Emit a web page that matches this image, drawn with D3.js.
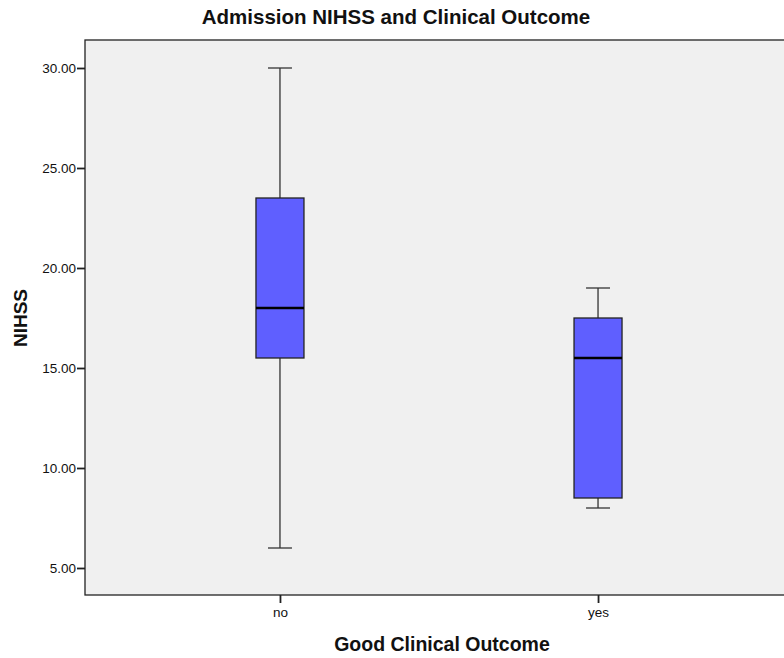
<!DOCTYPE html>
<html>
<head>
<meta charset="utf-8">
<script src="https://cdn.jsdelivr.net/npm/d3@7"></script>
<style>
  html, body { margin: 0; padding: 0; background: #fff; }
  svg { display: block; font-family: "Liberation Sans", Arial, sans-serif; }
</style>
</head>
<body>
<svg id="chart" width="784" height="658"></svg>
<script>
// Admission NIHSS by clinical outcome group
const categories = ["no", "yes"];
const whiskerLow  = [6, 8];
const quartile1   = [15.5, 8.5];
const medians     = [18, 15.5];
const quartile3   = [23.5, 17.5];
const whiskerHigh = [30, 19];
const yTicks = [5, 10, 15, 20, 25, 30];

const boxes = categories.map((c, i) => ({
  cat: c, lo: whiskerLow[i], q1: quartile1[i], med: medians[i], q3: quartile3[i], hi: whiskerHigh[i]
}));

const svg = d3.select("#chart");
const plot = { left: 85, right: 793, top: 40, bottom: 595 };
const FONT = "Liberation Sans, Arial, sans-serif";

const x = d3.scalePoint().domain(categories).range([plot.left, plot.right]).padding(0.613);
const y = d3.scaleLinear().domain([3.65, 31.4]).range([plot.bottom, plot.top]);

// plot background
svg.append("rect")
  .attr("x", plot.left).attr("y", plot.top)
  .attr("width", plot.right - plot.left).attr("height", plot.bottom - plot.top)
  .attr("fill", "#f0f0f0").attr("stroke", "#222").attr("stroke-width", 1.3);

// y axis
const yAxis = svg.append("g").attr("transform", `translate(${plot.left},0)`)
  .call(d3.axisLeft(y).tickValues(yTicks).tickFormat(d3.format(".2f")).tickSize(8).tickSizeOuter(0));
yAxis.select(".domain").remove();
yAxis.selectAll(".tick line").attr("stroke", "#222").attr("stroke-width", 1.8);
yAxis.selectAll(".tick text").attr("x", -9).attr("font-size", 13.5).attr("fill", "#111")
  .attr("font-family", FONT);

// x axis
const xAxis = svg.append("g").attr("transform", `translate(0,${plot.bottom})`)
  .call(d3.axisBottom(x).tickSize(8).tickSizeOuter(0));
xAxis.select(".domain").remove();
xAxis.selectAll(".tick line").attr("stroke", "#222").attr("stroke-width", 1.8);
xAxis.selectAll(".tick text").attr("y", 12).attr("font-size", 13.5).attr("fill", "#111")
  .attr("font-family", FONT);

// box plots
const boxW = 48, capW = 24;
const g = svg.append("g").selectAll("g").data(boxes).join("g")
  .attr("transform", d => `translate(${x(d.cat)},0)`);

g.append("line").attr("x1", 0).attr("x2", 0)
  .attr("y1", d => y(d.hi)).attr("y2", d => y(d.q3))
  .attr("stroke", "#333").attr("stroke-width", 1.3);
g.append("line").attr("x1", 0).attr("x2", 0)
  .attr("y1", d => y(d.q1)).attr("y2", d => y(d.lo))
  .attr("stroke", "#333").attr("stroke-width", 1.3);
g.append("line").attr("x1", -capW / 2).attr("x2", capW / 2)
  .attr("y1", d => y(d.hi)).attr("y2", d => y(d.hi))
  .attr("stroke", "#333").attr("stroke-width", 1.3);
g.append("line").attr("x1", -capW / 2).attr("x2", capW / 2)
  .attr("y1", d => y(d.lo)).attr("y2", d => y(d.lo))
  .attr("stroke", "#333").attr("stroke-width", 1.3);
g.append("rect")
  .attr("x", -boxW / 2).attr("width", boxW)
  .attr("y", d => y(d.q3)).attr("height", d => y(d.q1) - y(d.q3))
  .attr("fill", "#5f5fff").attr("stroke", "#222").attr("stroke-width", 1.3);
g.append("line").attr("x1", -boxW / 2).attr("x2", boxW / 2)
  .attr("y1", d => y(d.med)).attr("y2", d => y(d.med))
  .attr("stroke", "#000").attr("stroke-width", 2.5);

// titles
svg.append("text").attr("x", 396).attr("y", 24).attr("text-anchor", "middle")
  .attr("font-size", 20.5).attr("font-weight", "bold").attr("fill", "#111")
  .text("Admission NIHSS and Clinical Outcome");
svg.append("text").attr("x", 442).attr("y", 651).attr("text-anchor", "middle")
  .attr("font-size", 19.5).attr("font-weight", "bold").attr("fill", "#111")
  .text("Good Clinical Outcome");
svg.append("text").attr("transform", "translate(27,318) rotate(-90)").attr("text-anchor", "middle")
  .attr("font-size", 19).attr("font-weight", "bold").attr("fill", "#111")
  .text("NIHSS");
</script>
</body>
</html>
